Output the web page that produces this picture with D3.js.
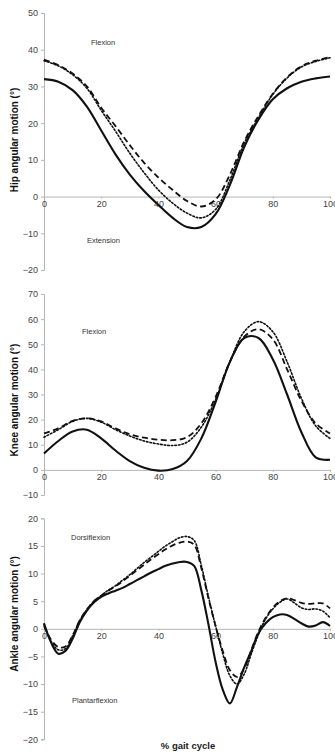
<!DOCTYPE html>
<html>
<head>
<meta charset="utf-8">
<script src="https://cdn.jsdelivr.net/npm/d3@7/dist/d3.min.js"></script>
<style>
  html, body { margin: 0; padding: 0; background: #fff; }
  svg { display: block; font-family: "Liberation Sans", Arial, sans-serif; }
</style>
</head>
<body>
<svg id="chart" width="335" height="755"></svg>
<script>
// % gait cycle sample points
const gait5 = d3.range(0, 101, 5);
const gait25 = d3.range(0, 100.1, 2.5);

// Hip angular motion (deg)
const hipSolid  = [32, 31.3, 29, 24.5, 18, 11.5, 6, 1.5, -2.3, -5.8, -8.3, -8.3, -4.8, 3.2, 13.5, 21, 26.5, 29.5, 31.3, 32.2, 32.7];
const hipDashed = [37.3, 35.8, 33.5, 30, 24.2, 19.2, 14, 9.2, 5.2, 1.8, -1.2, -2.7, -0.8, 6, 15, 22, 28, 32.5, 35.5, 37, 38];
const hipDotted = [37, 35.6, 33.2, 29.5, 23.5, 17.8, 11.8, 6.5, 1.8, -1.8, -4.5, -5.8, -3.5, 4.5, 14.5, 21.5, 27.8, 32.3, 35.3, 36.8, 37.8];

// Knee angular motion (deg)
const kneeSolid  = [6.5, 11.5, 15.3, 16, 12.5, 7.7, 3.5, 0.8, -0.3, 0.3, 3.5, 12.5, 27, 43, 52.5, 52.5, 44, 30, 15, 5, 4];
const kneeDashed = [14.5, 16.5, 19.5, 20.5, 19.3, 16.5, 14.2, 12.8, 12, 11.8, 13, 18.5, 29, 43, 53, 56, 52, 40, 27.5, 18.5, 14.5];
const kneeDotted = [13, 16, 19.3, 20.5, 19, 16, 13.5, 11.5, 10.3, 9.7, 11, 17, 28, 43, 55, 59, 55, 43, 28.5, 17.5, 12.5];

// Ankle angular motion (deg)
const ankleSolid  = [1.0, -2.5, -4.5, -4.0, -1.8, 1.2, 3.3, 4.8, 5.8, 6.4, 6.9, 7.4, 8.1, 8.8, 9.5, 10.2, 10.8, 11.4, 11.8, 12.1, 12.1,
                     11.4, 7.0, 0.8, -6, -11, -13.5, -10.5, -7, -4, -0.8, 1, 2.1, 2.6, 2.5, 1.8, 1.0, 0.4, 0.6, 1.2, 0.5];
const ankleDashed = [0.5, -2, -3.3, -3.2, -1.2, 1.5, 3.5, 5, 6, 6.9, 7.7, 8.6, 9.6, 10.6, 11.6, 12.6, 13.5, 14.4, 15.1, 15.6, 15.8,
                     15.2, 11, 5.5, 0.5, -4, -7.5, -8.7, -7.2, -3.8, -0.5, 2, 3.8, 5, 5.5, 5.2, 4.7, 4.5, 4.6, 4.6, 3.7];
const ankleDotted = [0.8, -2.3, -3.8, -3.6, -1.3, 1.5, 3.5, 5, 6, 7, 7.8, 8.8, 9.8, 10.9, 12, 13, 14, 15, 15.8, 16.5, 16.7,
                     16, 11.5, 5.8, 0.5, -4.5, -8.5, -10, -8.2, -4.5, -1, 1.8, 3.6, 4.8, 5.4, 4.7, 3.8, 3.5, 3.6, 3.2, 2];

// Axis ticks
const xTicks = [0, 20, 40, 60, 80, 100];
const hipTicks = d3.range(-20, 51, 10);
const kneeTicks = d3.range(-10, 71, 10);
const ankleTicks = d3.range(-20, 21, 5);

// Labels
const hipLabel = "Hip angular motion (°)";
const kneeLabel = "Knee angular motion (°)";
const ankleLabel = "Ankle angular motion (°)";
const xLabel = "% gait cycle";

const svg = d3.select("#chart");
const x = d3.scaleLinear().domain([0, 100]).range([44, 330]);

const styles = {
  solid:  { width: 2.1, dash: null },
  dotted: { width: 1.6, dash: "1.6,2" },
  dashed: { width: 1.8, dash: "6,3.5" }
};

const panels = [
  { gait: gait5, series: { solid: hipSolid, dotted: hipDotted, dashed: hipDashed },
    ticks: hipTicks, top: 13, bottom: 270, label: hipLabel, labelY: 140,
    notes: [{ t: "Flexion", x: 91, y: 44.5 }, { t: "Extension", x: 87, y: 242.5 }] },
  { gait: gait5, series: { solid: kneeSolid, dotted: kneeDotted, dashed: kneeDashed },
    ticks: kneeTicks, top: 294, bottom: 495, label: kneeLabel, labelY: 400,
    notes: [{ t: "Flexion", x: 82, y: 333.5 }] },
  { gait: gait25, series: { solid: ankleSolid, dotted: ankleDotted, dashed: ankleDashed },
    ticks: ankleTicks, top: 518.3, bottom: 739.3, label: ankleLabel, labelY: 614,
    notes: [{ t: "Dorsiflexion", x: 71, y: 539.5 }, { t: "Plantarflexion", x: 72, y: 702.5 }] }
];

panels.forEach(p => {
  const y = d3.scaleLinear()
    .domain([d3.min(p.ticks), d3.max(p.ticks)])
    .range([p.bottom, p.top]);
  const g = svg.append("g");

  // y axis
  const yAxis = g.append("g")
    .attr("transform", `translate(${x(0)},0)`)
    .call(d3.axisLeft(y).tickValues(p.ticks).tickSize(3).tickPadding(3));
  yAxis.select(".domain").attr("stroke", "#b5b5b5");
  yAxis.selectAll(".tick line").attr("stroke", "#b5b5b5");
  yAxis.selectAll(".tick text").attr("fill", "#444").attr("font-size", 9)
    .attr("font-family", "Liberation Sans, Arial, sans-serif");

  // x axis along zero
  const xAxis = g.append("g")
    .attr("transform", `translate(0,${y(0)})`)
    .call(d3.axisBottom(x).tickValues(xTicks).tickSize(2).tickPadding(2).tickSizeOuter(0));
  xAxis.select(".domain").attr("stroke", "#b5b5b5");
  xAxis.selectAll(".tick line").attr("stroke", "#b5b5b5");
  xAxis.selectAll(".tick text").attr("fill", "#444").attr("font-size", 9)
    .attr("font-family", "Liberation Sans, Arial, sans-serif");

  // curves
  const line = d3.line()
    .x((d, i) => x(p.gait[i]))
    .y(d => y(d))
    .curve(d3.curveCatmullRom.alpha(0.5));
  ["solid", "dotted", "dashed"].forEach(k => {
    g.append("path")
      .datum(p.series[k])
      .attr("d", line)
      .attr("fill", "none")
      .attr("stroke", "#111")
      .attr("stroke-width", styles[k].width)
      .attr("stroke-dasharray", styles[k].dash)
      .attr("stroke-linecap", k === "dotted" ? "round" : "butt");
  });

  // region notes
  p.notes.forEach(n => {
    g.append("text").attr("x", n.x).attr("y", n.y)
      .attr("font-size", 7.5).attr("fill", "#333").text(n.t);
  });

  // y label
  g.append("text")
    .attr("transform", `translate(18,${p.labelY}) rotate(-90)`)
    .attr("text-anchor", "middle")
    .attr("font-size", 10).attr("font-weight", "bold").attr("fill", "#111")
    .text(p.label);
});

svg.append("text")
  .attr("x", 188).attr("y", 748.5)
  .attr("text-anchor", "middle")
  .attr("font-size", 9.5).attr("font-weight", "bold").attr("fill", "#222")
  .text(xLabel);
</script>
</body>
</html>
